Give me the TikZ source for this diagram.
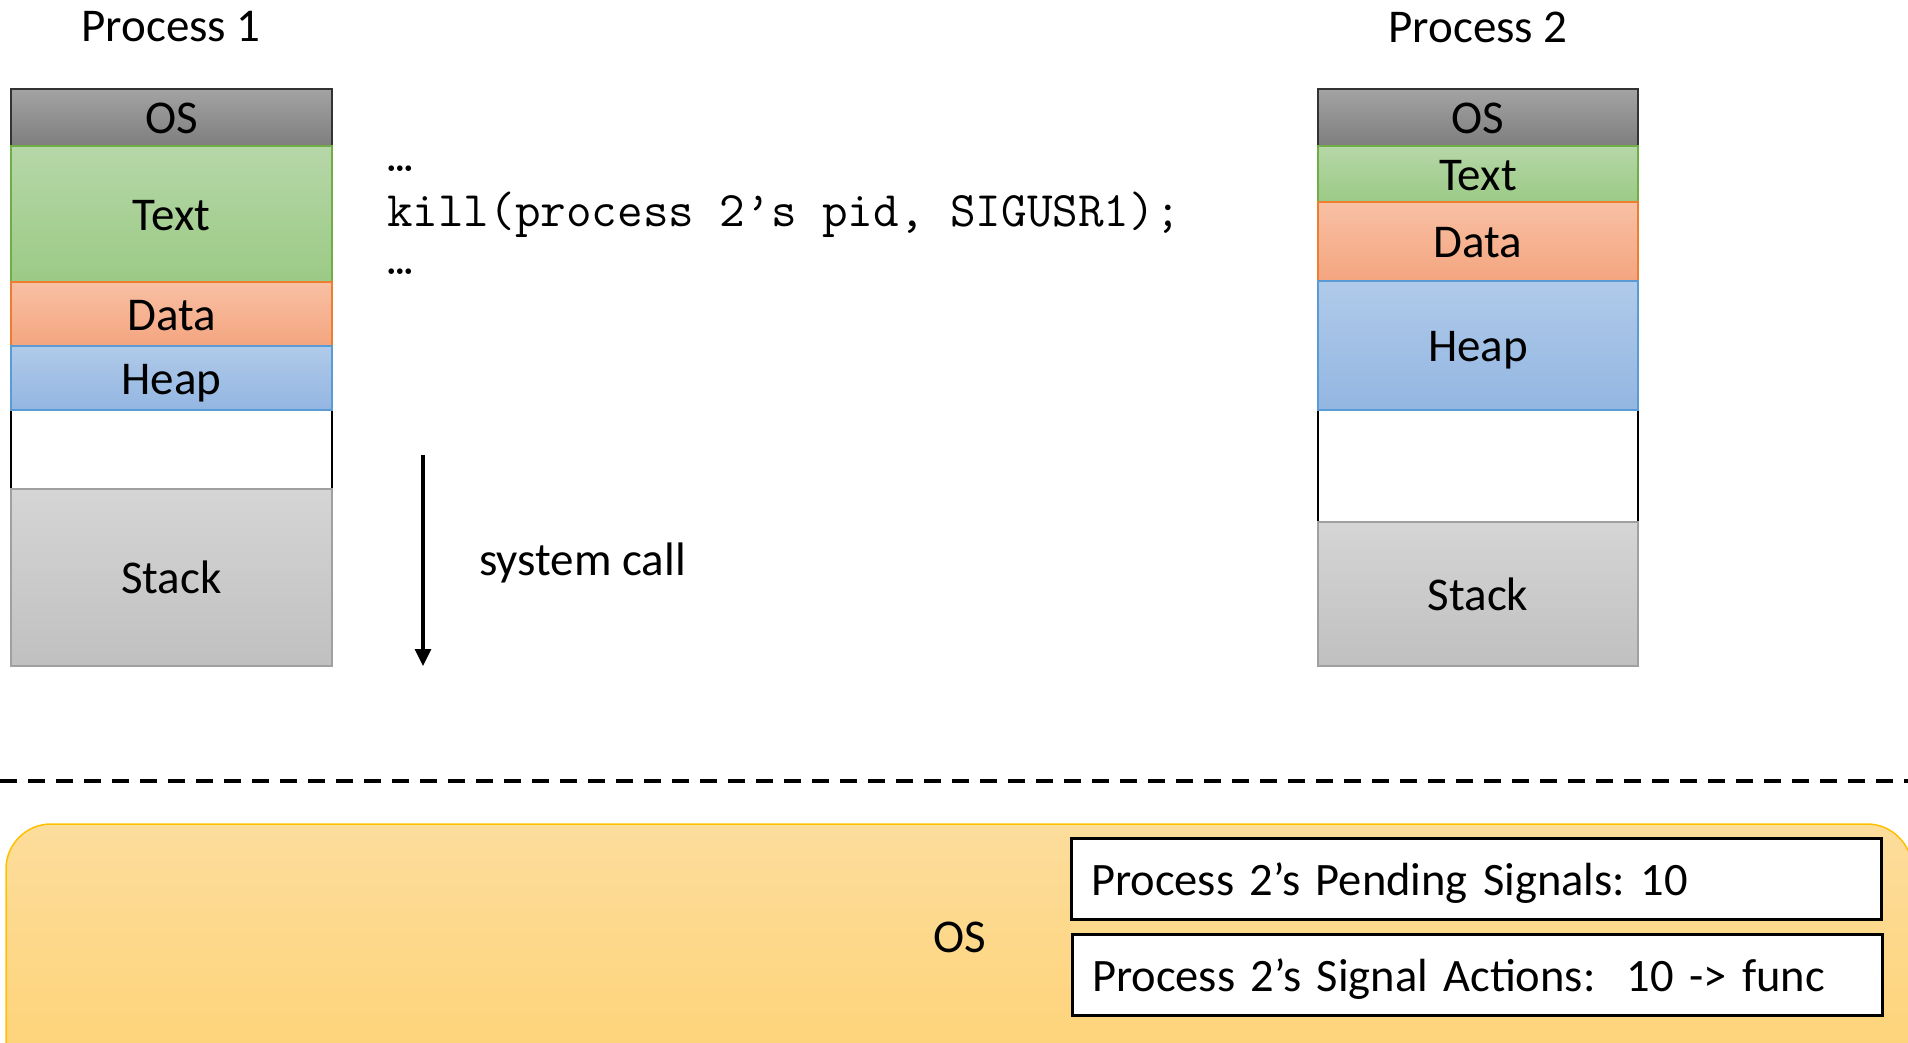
\documentclass[tikz,border=0pt]{standalone}
\usepackage{fontspec}
\setmainfont{Carlito}
\usetikzlibrary{arrows.meta}
\definecolor{osTop}{HTML}{A3A3A3}
\definecolor{osBot}{HTML}{7E7E7E}
\definecolor{txTop}{HTML}{B6D7A8}
\definecolor{txBot}{HTML}{9BCA85}
\definecolor{txBd}{HTML}{70AD47}
\definecolor{daTop}{HTML}{F8C0A4}
\definecolor{daBot}{HTML}{F4A57F}
\definecolor{daBd}{HTML}{ED7D31}
\definecolor{hpTop}{HTML}{B0CAE9}
\definecolor{hpBot}{HTML}{93B6E2}
\definecolor{hpBd}{HTML}{5B9BD5}
\definecolor{skTop}{HTML}{D5D5D5}
\definecolor{skBot}{HTML}{C0C0C0}
\definecolor{skBd}{HTML}{A0A0A0}
\definecolor{yeTop}{HTML}{FDDD9C}
\definecolor{yeBot}{HTML}{FED274}
\definecolor{yeBd}{HTML}{FFC000}
\frenchspacing
\tikzset{
  seg/.style={minimum width=#1, inner sep=0pt, outer sep=0pt, line width=1.5pt,
    font=\fontsize{47}{56}\selectfont, anchor=center, text height=32pt, text depth=0pt},
  ossg/.style={top color=osTop, bottom color=osBot, draw=black!80},
  txsg/.style={top color=txTop, bottom color=txBot, draw=txBd},
  dasg/.style={top color=daTop, bottom color=daBot, draw=daBd},
  hpsg/.style={top color=hpTop, bottom color=hpBot, draw=hpBd},
  sksg/.style={top color=skTop, bottom color=skBot, draw=skBd},
  emsg/.style={fill=white, draw=black},
  lbl/.style={font=\fontsize{47}{56}\selectfont, inner sep=0pt},
  code/.style={font=\ttfamily\fontsize{49.7}{58}\selectfont, inner sep=0pt},
  sigbox/.style={draw=black, fill=white, line width=3pt, minimum width=810pt,
    minimum height=81pt, text width=770pt, inner xsep=20pt, inner ysep=0pt,
    align=left, font=\fontsize{46.5}{56}\selectfont, text height=32pt, text depth=0pt},
}
\begin{document}
\begin{tikzpicture}[x=1pt,y=-1pt]
\useasboundingbox (0,0) rectangle (1908,1042);
% Process 1 stack
\node[seg=321pt, emsg, minimum height=79pt] (e1) at (171.5,449.5) {};
\node[seg=321pt, ossg, minimum height=57pt] (os1) at (171.5,117.5) {OS};
\node[seg=321pt, txsg, minimum height=136pt] (t1) at (171.5,214) {Text};
\node[seg=321pt, dasg, minimum height=64pt] (d1) at (171.5,314) {Data};
\node[seg=321pt, hpsg, minimum height=64pt] (h1) at (171.5,378) {Heap};
\node[seg=321pt, sksg, minimum height=177pt] (s1) at (171.5,577.5) {Stack};
% Process 2 stack
\node[seg=320pt, emsg, minimum height=112pt] (e2) at (1478,466) {};
\node[seg=320pt, ossg, minimum height=57pt] (os2) at (1478,117.5) {OS};
\node[seg=320pt, txsg, minimum height=56pt] (t2) at (1478,174) {Text};
\node[seg=320pt, dasg, minimum height=79pt] (d2) at (1478,241.5) {Data};
\node[seg=320pt, hpsg, minimum height=129pt] (h2) at (1478,345.5) {Heap};
\node[seg=320pt, sksg, minimum height=144pt] (s2) at (1478,594) {Stack};
% titles
\node[lbl] (p1) at (171,27) {Process 1};
\node[lbl] (p2) at (1478,27) {Process 2};
% code
\node[code, anchor=base west] (c0) at (387,171) {…};
\node[code, anchor=base west] (c1) at (387,226) {kill(process 2’s pid, SIGUSR1);};
\node[code, anchor=base west] (c2) at (387,274) {…};
% system call arrow
\coordinate (a1) at (423,455);
\coordinate (a2) at (423,666);
\draw[line width=3.2pt, -{Triangle[length=17pt,width=16pt]}] (a1) -- (a2);
\node[lbl, anchor=west] (sc) at (479,563) {system call};
% dashed separator
\coordinate (dl) at (0,781);
\coordinate (dr) at (1908,781);
\draw[line width=4pt, dash pattern=on 17pt off 11pt] (dl) -- (dr);
% OS area
\shade[top color=yeTop, bottom color=yeBot, draw=yeBd, line width=1.5pt, rounded corners=45pt]
  (6,824) rectangle (1912,1090);
\node[lbl] (os) at (960,937) {OS};
\node[sigbox] (b1) at (1476,879) {Process 2’s Pending Signals: 10};
\node[sigbox] (b2) at (1477,975) {Process 2’s Signal Actions:~ 10 -> func};
\end{tikzpicture}
\end{document}
